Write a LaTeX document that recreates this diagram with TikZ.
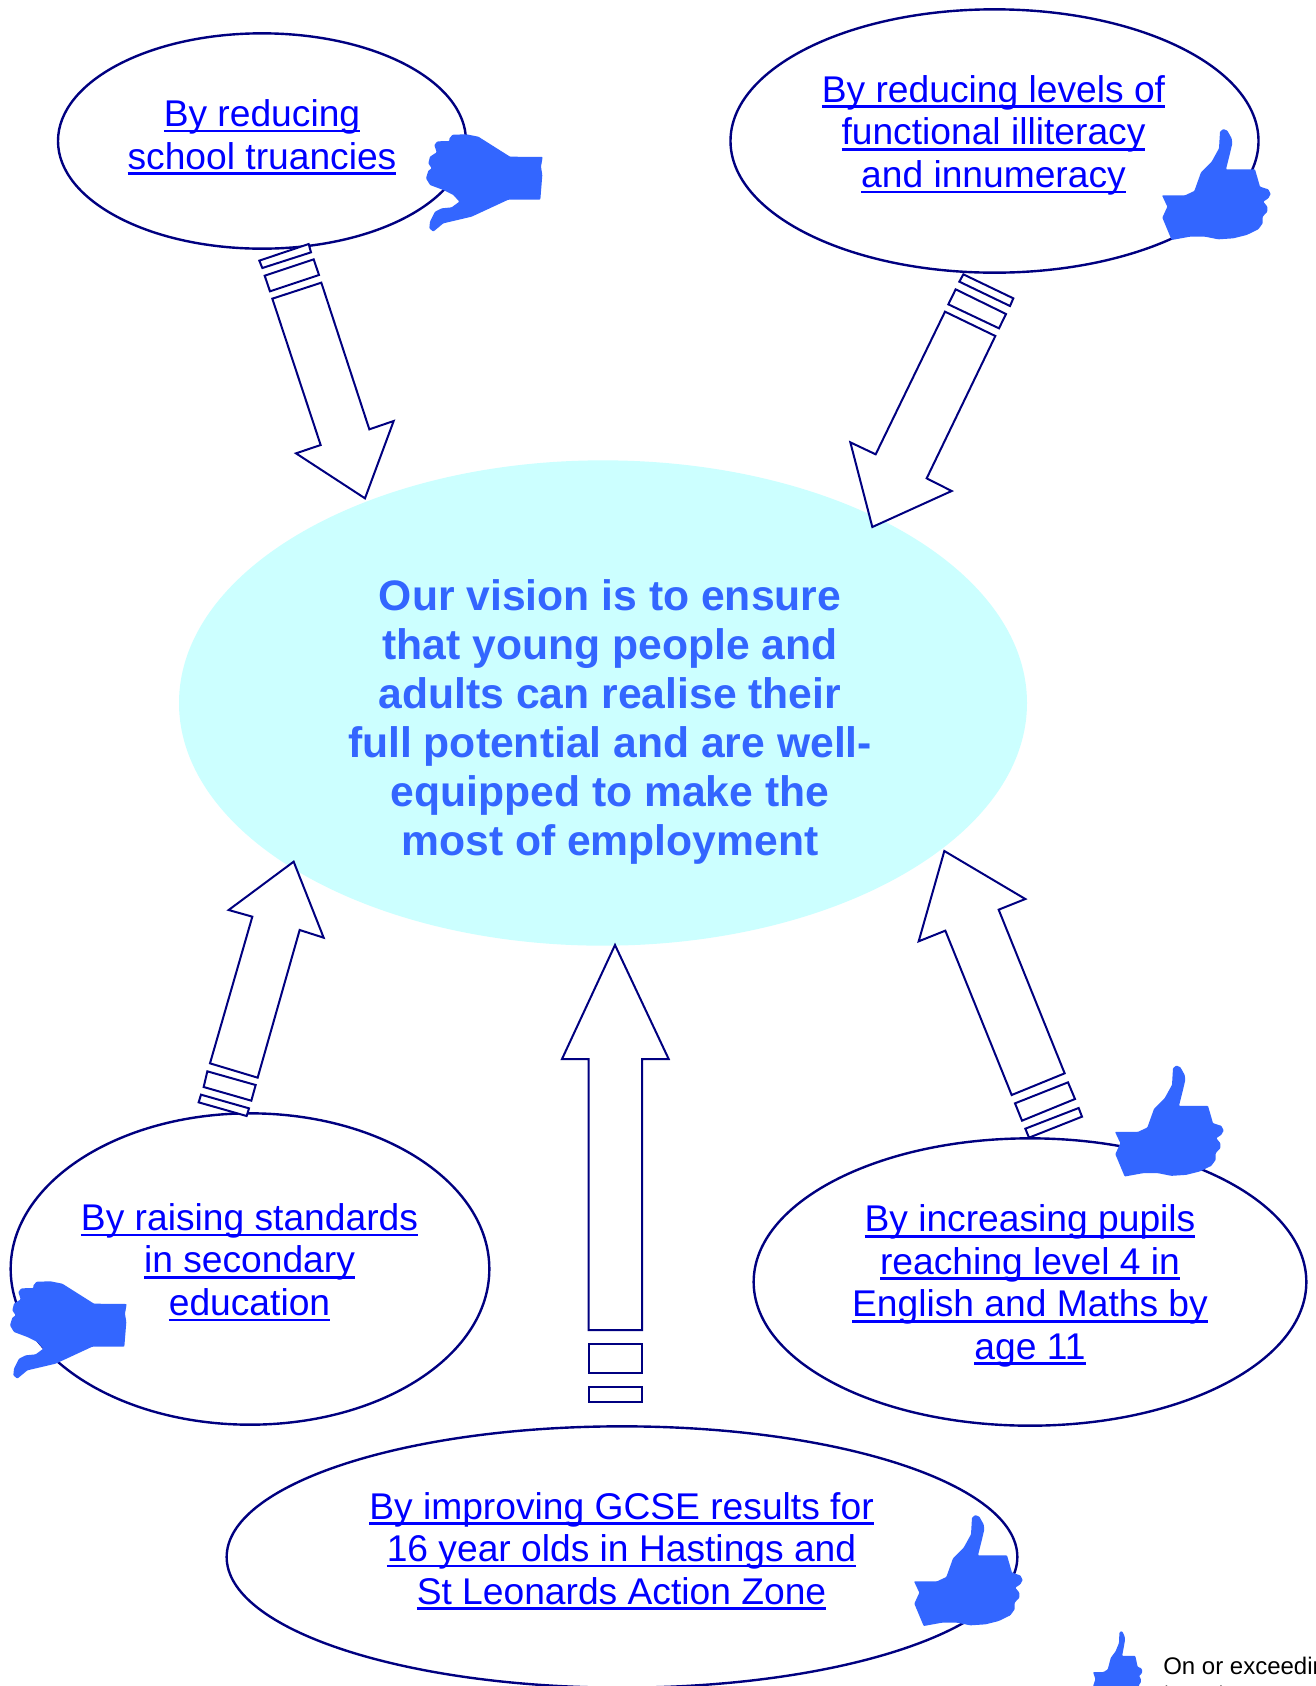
\documentclass[tikz,border=0pt]{standalone}
\usepackage{fontspec}
\setmainfont{Liberation Sans}
\usetikzlibrary{shapes.geometric}
\definecolor{navyline}{HTML}{000080}
\definecolor{thumbblue}{HTML}{3366FF}
\definecolor{linkblue}{HTML}{0000FF}
\definecolor{paleaqua}{HTML}{CCFFFF}
\newcommand\lnk[1]{\setbox0\hbox{#1}\rlap{\rule[-4.4pt]{\wd0}{2pt}}\box0}
\newcommand\thumbuppath{(240,65)--(250,57)--(262,62)--(275,85)--(277,100)--(270,130)--(258,178)--(345,178)--(360,230)--(385,238)--(392,252)--(385,265)--(370,275)--(382,290)--(382,305)--(368,320)--(368,340)--(355,358)--(320,375)--(280,385)--(235,388)--(195,380)--(150,380)--(95,390)--(67,323)--(82,290)--(66,256)--(135,256)--(163,243)--(183,187)--(215,155)--(237,115)--cycle}
\newcommand\thumbdownpath{(148,115)--(158,104)--(200,103)--(235,110)--(330,170)--(428,171)--(423,200)--(427,225)--(421,299)--(325,299)--(215,350)--(130,370)--(100,395)--(88,385)--(90,365)--(105,335)--(125,325)--(155,322)--(178,305)--(160,285)--(130,270)--(90,255)--(78,235)--(85,212)--(95,205)--(85,190)--(90,170)--(110,157)--(103,135)--(112,124)--(148,123)--cycle}
\tikzset{
  x=0.75pt,y=-0.75pt,
  goal/.style={shape=ellipse,draw=navyline,line width=1.8pt,inner sep=0pt,outer sep=0pt},
  vision/.style={shape=ellipse,fill=paleaqua,inner sep=0pt,outer sep=0pt},
  blockarrow/.style={draw=navyline,fill=white,line width=1.5pt,line join=miter},
  linktext/.style={align=center,text=linkblue,inner sep=0pt,font=\fontsize{27.9}{31.9}\selectfont},
  visiontext/.style={align=center,text=thumbblue,inner sep=0pt,font=\fontsize{32}{36.75}\selectfont\bfseries},
  zoomed/.style={scale=0.33333},
  hand/.style={fill=thumbblue,draw=none,rounded corners=0.6pt}
}
\begin{document}
\begin{tikzpicture}
\useasboundingbox (0,0) rectangle (1316,1686);
\clip (0,0) rectangle (1316,1686);
\fill[white] (0,0) rectangle (1316,1686);
% ellipses
\node[vision,minimum width=636pt,minimum height=364pt] (centre) at (603,703) {};
\node[goal,minimum width=306pt,minimum height=161.5pt] (tl) at (262,141) {};
\node[goal,minimum width=396pt,minimum height=197.5pt] (tr) at (994.5,141) {};
\node[goal,minimum width=359pt,minimum height=233.5pt] (bl) at (250,1269) {};
\node[goal,minimum width=414.5pt,minimum height=215.5pt] (br) at (1030,1282) {};
\node[goal,minimum width=593pt,minimum height=196pt] (bc) at (622,1557) {};
% arrows
\begin{scope}[shift={(230,230)},zoomed]
\draw[blockarrow] (88,92)--(236,42)--(243,67)--(97,114)--cycle;
\draw[blockarrow] (104,137)--(251,88)--(267,135)--(120,184)--cycle;
\draw[blockarrow] (127,206)--(274,158)--(418,598)--(491,573)--(405,805)--(198,670)--(272,645)--cycle;
\end{scope}
\begin{scope}[shift={(840,265)},zoomed]
\draw[blockarrow] (370,28)--(520,100)--(510,123)--(358,50)--cycle;
\draw[blockarrow] (347,73)--(498,147)--(477,190)--(325,118)--cycle;
\draw[blockarrow] (315,140)--(466,213)--(260,640)--(335,678)--(97,786)--(31,532)--(107,568)--cycle;
\end{scope}
\begin{scope}[shift={(190,850)},zoomed]
\draw[blockarrow] (60,640)--(187,200)--(116,180)--(311,35)--(401,263)--(329,240)--(203,683)--cycle;
\draw[blockarrow] (52,664)--(197,705)--(184,752)--(41,711)--cycle;
\draw[blockarrow] (33,734)--(177,775)--(170,798)--(26,757)--cycle;
\end{scope}
\begin{scope}[shift={(550,930)},zoomed]
\draw[blockarrow] (195,45)--(356,387)--(276,387)--(276,1200)--(116,1200)--(116,387)--(36,387)--cycle;
\draw[blockarrow] (116,1243)--(276,1243)--(276,1328)--(116,1328)--cycle;
\draw[blockarrow] (116,1371)--(276,1371)--(276,1415)--(116,1415)--cycle;
\end{scope}
\begin{scope}[shift={(900,840)},zoomed]
\draw[blockarrow] (133,33)--(376,177)--(296,209)--(494,700)--(335,765)--(136,272)--(56,304)--cycle;
\draw[blockarrow] (504,727)--(525,777)--(366,842)--(345,790)--cycle;
\draw[blockarrow] (536,804)--(546,830)--(387,893)--(376,866)--cycle;
\end{scope}
% hands
\begin{scope}[shift={(400,100)},zoomed]\fill[hand] \thumbdownpath;\end{scope}
\begin{scope}[shift={(-16,1247)},zoomed]\fill[hand] \thumbdownpath;\end{scope}
\begin{scope}[shift={(1140,110)},zoomed]\fill[hand] \thumbuppath;\end{scope}
\begin{scope}[shift={(1093,1046.5)},zoomed]\fill[hand] \thumbuppath;\end{scope}
\begin{scope}[shift={(892,1496)},zoomed]\fill[hand] \thumbuppath;\end{scope}
\begin{scope}[shift={(1083,1619.3)},xscale=0.1517,yscale=0.206]\fill[hand] \thumbuppath;\end{scope}
% texts
\node[linktext] (tltext) at (262,137.2) {\lnk{By reducing}\\\lnk{school truancies}};
\node[linktext] (trtext) at (993.5,135.2) {\lnk{By reducing levels of}\\\lnk{functional illiteracy}\\\lnk{and innumeracy}};
\node[linktext] (bltext) at (249.5,1262.4) {\lnk{By raising standards}\\\lnk{in secondary}\\\lnk{education}};
\node[linktext] (brtext) at (1030,1285.8) {\lnk{By increasing pupils}\\\lnk{reaching level 4 in}\\\lnk{English and Maths by}\\\lnk{age 11}};
\node[linktext] (bctext) at (621.5,1551) {\lnk{By improving GCSE results for}\\\lnk{16 year olds in Hastings and}\\\lnk{St Leonards Action Zone}};
\node[visiontext] (centretext) at (610,722.3) {Our vision is to ensure\\that young people and\\adults can realise their\\full potential and are well-\\equipped to make the\\most of employment};
\node[anchor=base west,inner sep=0pt,font=\fontsize{18}{20}\selectfont] (legend1) at (1163,1674) {On or exceeding};
\node[anchor=base west,inner sep=0pt,font=\fontsize{18}{20}\selectfont] (legend2) at (1163,1701) {target};
\end{tikzpicture}
\end{document}
